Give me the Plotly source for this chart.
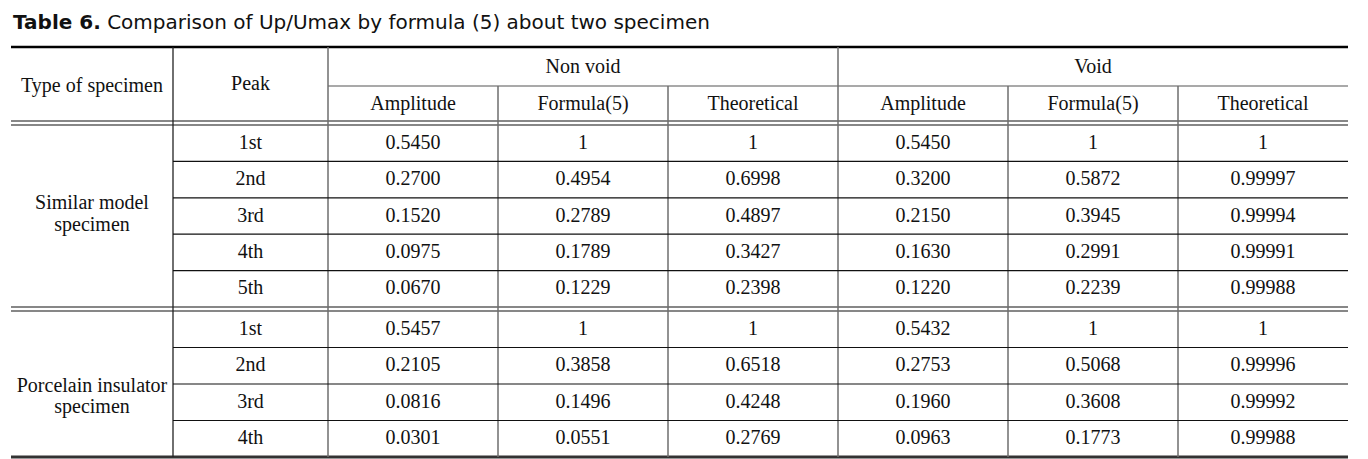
import plotly.graph_objects as go

# ---------------- data ----------------
title_bold = "Table 6."
title_rest = "Comparison of Up/Umax by formula (5) about two specimen"
col_type = "Type of specimen"
col_peak = "Peak"
groups = ["Non void", "Void"]
subcols = ["Amplitude", "Formula(5)", "Theoretical"]

specimen_labels = [["Similar model", "specimen"], ["Porcelain insulator", "specimen"]]

peaks_similar = ["1st", "2nd", "3rd", "4th", "5th"]
nv_amp_similar = ["0.5450", "0.2700", "0.1520", "0.0975", "0.0670"]
nv_f5_similar = ["1", "0.4954", "0.2789", "0.1789", "0.1229"]
nv_th_similar = ["1", "0.6998", "0.4897", "0.3427", "0.2398"]
v_amp_similar = ["0.5450", "0.3200", "0.2150", "0.1630", "0.1220"]
v_f5_similar = ["1", "0.5872", "0.3945", "0.2991", "0.2239"]
v_th_similar = ["1", "0.99997", "0.99994", "0.99991", "0.99988"]

peaks_porcelain = ["1st", "2nd", "3rd", "4th"]
nv_amp_porcelain = ["0.5457", "0.2105", "0.0816", "0.0301"]
nv_f5_porcelain = ["1", "0.3858", "0.1496", "0.0551"]
nv_th_porcelain = ["1", "0.6518", "0.4248", "0.2769"]
v_amp_porcelain = ["0.5432", "0.2753", "0.1960", "0.0963"]
v_f5_porcelain = ["1", "0.5068", "0.3608", "0.1773"]
v_th_porcelain = ["1", "0.99996", "0.99992", "0.99988"]

# ---------------- layout geometry ----------------
W, H = 1368, 459
X0, X1 = 11, 1348
col_edges = [11, 173, 328, 498, 668, 838, 1008, 1178, 1348]
Y_TOP = 47
Y_HMID = 86
Y_HDBL = (121, 125)
Y_G1 = 125
Y_G1_END = 307
Y_G2 = 311
Y_G2_END = 457

SERIF = "Liberation Serif"
SANS = "DejaVu Sans"
FS = 20
TXT = "#111111"

fig = go.Figure()
shapes = []


def hline(y, x0, x1, w=1, c="#111111"):
    shapes.append(dict(type="line", xref="x", yref="y", x0=x0, x1=x1, y0=y, y1=y,
                       line=dict(color=c, width=w)))


def vline(x, y0, y1, w=1.5, c="#6e6e6e"):
    shapes.append(dict(type="line", xref="x", yref="y", x0=x, x1=x, y0=y0, y1=y1,
                       line=dict(color=c, width=w)))


# borders
hline(Y_TOP, X0, X1, w=2.5, c="#000000")
hline(Y_HMID, col_edges[2], X1, w=1.2, c="#555555")
hline(Y_HDBL[0], X0, X1, w=1.2, c="#111111")
hline(Y_HDBL[1], X0, X1, w=1.2, c="#111111")
hline(Y_G1_END, X0, X1, w=1.2, c="#111111")
hline(Y_G1_END + 4, X0, X1, w=1.2, c="#111111")
hline(Y_G2_END, X0, X1, w=3, c="#333333")

# verticals
vline(col_edges[1], Y_TOP, Y_G2_END, w=1.3, c="#222222")
vline(col_edges[2], Y_TOP, Y_G2_END)
vline(col_edges[5], Y_TOP, Y_G2_END)
for xe in (col_edges[3], col_edges[4], col_edges[6], col_edges[7]):
    vline(xe, Y_HMID, Y_G2_END)

# row separators (not in first column)
n1 = len(peaks_similar)
n2 = len(peaks_porcelain)
rh1 = (Y_G1_END - Y_G1) / n1
rh2 = (Y_G2_END - Y_G2) / n2
for i in range(1, n1):
    hline(Y_G1 + i * rh1, col_edges[1], X1, w=1.2)
for i in range(1, n2):
    hline(Y_G2 + i * rh2, col_edges[1], X1, w=1.2)

# ---------------- text ----------------
xs, ys, ts = [], [], []


def add_text(x, y, t):
    xs.append(x)
    ys.append(y)
    ts.append(t)


cc = [(col_edges[i] + col_edges[i + 1]) / 2 for i in range(len(col_edges) - 1)]

add_text(cc[0], 87, col_type)
add_text(cc[1], 85, col_peak)
add_text((col_edges[2] + col_edges[5]) / 2, 68, groups[0])
add_text((col_edges[5] + col_edges[8]) / 2, 68, groups[1])
for g in range(2):
    for j, s in enumerate(subcols):
        add_text(cc[2 + 3 * g + j], 105, s)

blocks = [
    (Y_G1, rh1, peaks_similar, [nv_amp_similar, nv_f5_similar, nv_th_similar,
                                 v_amp_similar, v_f5_similar, v_th_similar]),
    (Y_G2, rh2, peaks_porcelain, [nv_amp_porcelain, nv_f5_porcelain, nv_th_porcelain,
                                   v_amp_porcelain, v_f5_porcelain, v_th_porcelain]),
]
for (y0, rh, peaks, cols) in blocks:
    for i, p in enumerate(peaks):
        yc = y0 + (i + 0.5) * rh + 0.5
        add_text(cc[1], yc, p)
        for k, col in enumerate(cols):
            add_text(cc[2 + k], yc, col[i])

label_y = [(204, 226), (387, 408)]
for lab, (ya, yb) in zip(specimen_labels, label_y):
    add_text(cc[0], ya, lab[0])
    add_text(cc[0], yb, lab[1])

fig.add_trace(go.Scatter(x=xs, y=ys, text=ts, mode="text", textposition="middle center",
                         textfont=dict(family=SERIF, size=FS, color=TXT),
                         hoverinfo="skip", showlegend=False))

fig.add_annotation(x=X0, y=22, xref="x", yref="y", xanchor="left", yanchor="middle",
                   showarrow=False,
                   text=f"<b>{title_bold}</b> {title_rest}",
                   font=dict(family=SANS, size=20, color="#111111"))

fig.update_layout(
    width=W, height=H,
    margin=dict(l=0, r=0, t=0, b=0),
    paper_bgcolor="white", plot_bgcolor="white",
    xaxis=dict(range=[0, W], visible=False, fixedrange=True),
    yaxis=dict(range=[H, 0], visible=False, fixedrange=True),
    shapes=shapes,
)

fig.write_html("out.html", config={"displayModeBar": False},
               post_script="document.body.style.margin='0';document.body.style.padding='0';")
